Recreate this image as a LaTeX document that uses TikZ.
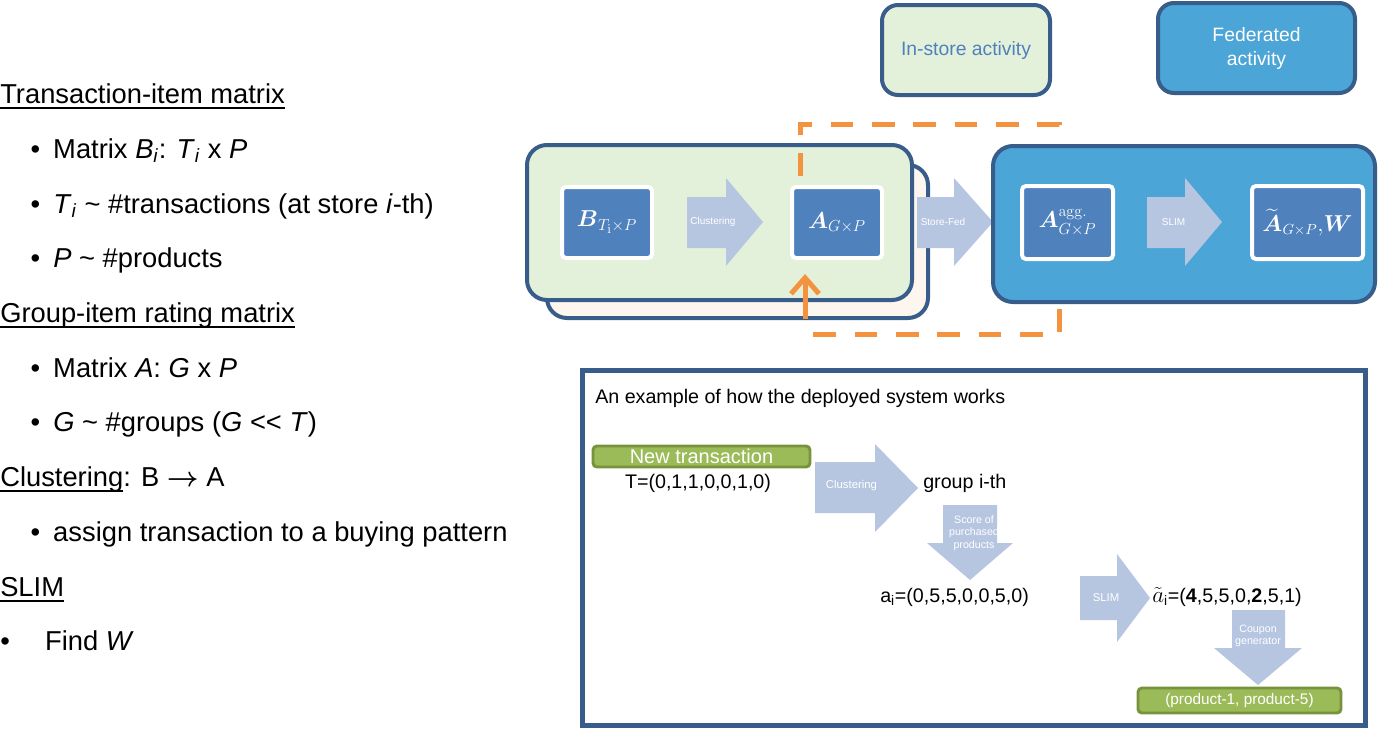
\documentclass[tikz,border=0pt]{standalone}
\usepackage{amsmath}
\usepackage{amssymb}
\usepackage[no-math]{fontspec}
\setmainfont{Liberation Sans}
\usetikzlibrary{arrows.meta}

\definecolor{boxline}{HTML}{385D8A}
\definecolor{storegreen}{HTML}{E3F1DA}
\definecolor{storecream}{HTML}{FDF6EE}
\definecolor{fedblue}{HTML}{4BA5D6}
\definecolor{matblue}{HTML}{4F81BD}
\definecolor{flowblue}{HTML}{B6C6E1}
\definecolor{dashorange}{HTML}{F39340}
\definecolor{bargreen}{HTML}{9BBB59}
\definecolor{barline}{HTML}{77933C}

\newcommand{\itemdot}{\llap{\textbullet\hspace{9.75pt}}}
\newcommand{\isub}[1]{\textsubscript{\textit{#1}}}
\newcommand{\headline}[1]{\setbox0\hbox{#1}\rlap{\rule[-4.6pt]{\wd0}{1.3pt}}\box0}

\tikzset{
  note/.style={anchor=base west, inner sep=0pt, font=\fontsize{20.5}{24}\selectfont},
  panel/.style={draw=boxline, line width=3pt, rounded corners=12pt},
  matrixbox/.style={draw=white, fill=matblue, line width=3pt, rounded corners=3pt,
    text=white, inner sep=0pt, font=\fontsize{17.28}{20}\selectfont},
  flow/.style={fill=flowblue},
  flowlabel/.style={text=white, inner sep=0pt, font=\fontsize{7.5}{9}\selectfont},
  tag/.style={draw=barline, fill=bargreen, line width=2.2pt, rounded corners=3pt,
    text=white, inner sep=0pt},
  plain/.style={inner sep=0pt, font=\fontsize{14.75}{18}\selectfont},
  feedback/.style={draw=dashorange, line width=3.75pt, dash pattern=on 17pt off 14pt},
}

\begin{document}
\begin{tikzpicture}[x=0.75pt, y=-0.75pt]
    \useasboundingbox (0,0) rectangle (1379,729);

    % left column
    \node[note] (tim) at (0,103) {\headline{Transaction-item matrix}};
    \node[note] (tim1) at (53,158) {\itemdot Matrix \textit{B}\isub{i}: \textit{T}\isub{i} x \textit{P}};
    \node[note] (tim2) at (53,213) {\itemdot \textit{T}\isub{i} \textasciitilde{} \#transactions (at store \textit{i}-th)};
    \node[note] (tim3) at (53,267) {\itemdot \textit{P} \textasciitilde{} \#products};
    \node[note] (gim) at (0,322) {\headline{Group-item rating matrix}};
    \node[note] (gim1) at (53,377) {\itemdot Matrix \textit{A}: \textit{G} x \textit{P}};
    \node[note] (gim2) at (53,431) {\itemdot \textit{G} \textasciitilde{} \#groups (\textit{G} <{}< \textit{T})};
    \node[note] (clu) at (0,486) {\headline{Clustering}: B $\boldsymbol{\rightarrow}$ A};
    \node[note] (clu1) at (53,541) {\itemdot assign transaction to a buying pattern};
    \node[note] (slm) at (0,596) {\headline{SLIM}};
    \node[note] (slm1) at (0,650) {\textbullet\hspace{26.5pt}Find \textit{W}};

    % legend
    \node[panel, fill=storegreen, minimum width=126pt, minimum height=67.5pt, text=matblue,
      font=\fontsize{14.5}{18}\selectfont] (instore) at (966,50) {In-store activity};
    \node[panel, fill=fedblue, minimum width=147.75pt, minimum height=67.5pt, text=white,
      align=center, font=\fontsize{14.5}{18}\selectfont] (federated) at (1256.5,48) {Federated\\activity};

    % in-store part
    \node[panel, fill=storecream, rounded corners=15pt, minimum width=285.75pt, minimum height=114.75pt] (storeback) at (737.5,241.5) {};
    \node[panel, fill=storegreen, rounded corners=15pt, minimum width=288.75pt, minimum height=116.25pt] (store) at (719.5,222.5) {};
    \node[matrixbox, minimum width=67.5pt, minimum height=53.25pt] (Bmat) at (607,222.5) {$\boldsymbol{B}_{T_{\mathrm{i}}\times P}$};
    \fill[flow] (687,197) -- (726,197) -- (726,178) -- (763,222) -- (726,266) -- (726,248) -- (687,248) -- cycle;
    \node[flowlabel] (cluster) at (713,222) {Clustering};
    \node[matrixbox, minimum width=67.5pt, minimum height=53.25pt] (Amat) at (837,222.5) {$\boldsymbol{A}_{G\times P}$};
    \fill[flow] (917,197) -- (954,197) -- (954,178) -- (993,222) -- (954,266) -- (954,248) -- (917,248) -- cycle;
    \node[flowlabel] (storefed) at (943,222) {Store-Fed};

    % feedback loop
    \coordinate (loopstart) at (800,176);
    \coordinate (loopnw) at (800,124);
    \coordinate (loopne) at (1059,124);
    \coordinate (loopse) at (1059,334);
    \coordinate (loopsw) at (806,334);
    \coordinate (loopin) at (805,319);
    \coordinate (loopend) at (805,274);
    \draw[feedback] (loopstart) -- (loopnw) -- (loopne) -- (loopse) -- (loopsw);
    \draw[draw=dashorange, line width=3.75pt, -{Straight Barb[length=12pt, width=21pt]}] (loopin) -- (loopend);

    % federated part
    \node[panel, fill=fedblue, rounded corners=15pt, minimum width=286.5pt, minimum height=117pt] (fed) at (1184,224) {};
    \node[matrixbox, minimum width=68.25pt, minimum height=54.75pt] (Aagg) at (1067.5,222.5) {$\boldsymbol{A}^{\mathrm{agg.}}_{G\times P}$};
    \fill[flow] (1147,197) -- (1185,197) -- (1185,178) -- (1222,222) -- (1185,266) -- (1185,248) -- (1147,248) -- cycle;
    \node[flowlabel] (slimtop) at (1173.5,222) {SLIM};
    \node[matrixbox, minimum width=83.25pt, minimum height=54.75pt, font=\fontsize{16}{19}\selectfont] (Atil) at (1307.5,222.5) {$\widetilde{\boldsymbol{A}}_{G\times P}{,}\boldsymbol{W}$};

    % example
    \node[draw=boxline, line width=3.75pt, fill=white, minimum width=586.9pt, minimum height=265.9pt] (example) at (973.75,547.75) {};
    \node[plain, anchor=base west] (extitle) at (595,403) {An example of how the deployed system works};
    \node[tag, minimum width=162.75pt, minimum height=15.75pt, font=\fontsize{15}{18}\selectfont] (newtx) at (701.5,456.5) {New transaction};
    \node[plain, anchor=base] (txvec) at (698,488) {T=(0,1,1,0,0,1,0)};
    \fill[flow] (815,462) -- (875,462) -- (875,444) -- (918,488) -- (875,532) -- (875,513) -- (815,513) -- cycle;
    \node[flowlabel, font=\fontsize{8.5}{10}\selectfont] (clusterex) at (851.5,486) {Clustering};
    \node[plain, anchor=base west] (group) at (923,488) {group i-th};
    \fill[flow] (943,505) -- (997,505) -- (997,543) -- (1013,543) -- (970,580) -- (927,543) -- (943,543) -- cycle;
    \node[flowlabel, align=center, font=\fontsize{8}{9.4}\selectfont] (score) at (974,533) {Score of\\purchased\\products};
    \node[plain, anchor=base west] (avec) at (880,602) {a\textsubscript{i}=(0,5,5,0,0,5,0)};
    \fill[flow] (1080,576) -- (1117,576) -- (1117,554) -- (1150,598) -- (1117,642) -- (1117,620) -- (1080,620) -- cycle;
    \node[flowlabel, font=\fontsize{8.5}{10}\selectfont] (slimex) at (1106,598) {SLIM};
    \node[plain, anchor=base west] (atil) at (1152,602) {{\fontsize{17.28}{18}\selectfont$\tilde{a}$}\textsubscript{i}=(\textbf{4},5,5,0,\textbf{2},5,1)};
    \fill[flow] (1232,610) -- (1285,610) -- (1285,648) -- (1302,648) -- (1258,685) -- (1214,648) -- (1232,648) -- cycle;
    \node[flowlabel, align=center, font=\fontsize{8}{9.4}\selectfont] (coupon) at (1258,636) {Coupon\\generator};
    \node[tag, minimum width=152.25pt, minimum height=18.75pt, font=\fontsize{11.5}{14}\selectfont] (coupons) at (1239.5,700.5) {(product-1, product-5)};
\end{tikzpicture}
\end{document}
